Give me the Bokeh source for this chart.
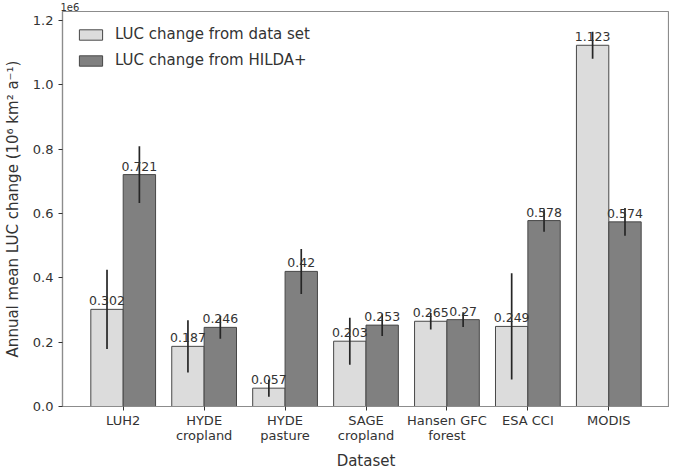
import numpy as np
from bokeh.plotting import figure
from bokeh.models import Range1d, FixedTicker, Legend, LegendItem
from bokeh.core.properties import value
from bokeh.embed import file_html
from bokeh.resources import INLINE

datasets = ["LUH2", "HYDE\ncropland", "HYDE\npasture", "SAGE\ncropland",
            "Hansen GFC\nforest", "ESA CCI", "MODIS"]
luc_dataset = [0.302, 0.187, 0.057, 0.203, 0.265, 0.249, 1.123]
err_dataset = [0.123, 0.081, 0.027, 0.073, 0.026, 0.165, 0.042]
luc_hilda = [0.721, 0.246, 0.42, 0.253, 0.27, 0.578, 0.574]
err_hilda = [0.088, 0.035, 0.070, 0.034, 0.023, 0.035, 0.043]
label_dataset = ["0.302", "0.187", "0.057", "0.203", "0.265", "0.249", "1.123"]
label_hilda = ["0.721", "0.246", "0.42", "0.253", "0.27", "0.578", "0.574"]
y_ticks = [0.0, 0.2, 0.4, 0.6, 0.8, 1.0, 1.2]

FONT = "DejaVu Sans"
TXT = "#333333"
EDGE = "#474747"

idx = np.arange(len(datasets))
xa = idx - 0.2
xb = idx + 0.2
va = np.array(luc_dataset)
vb = np.array(luc_hilda)
ea = np.array(err_dataset)
eb = np.array(err_hilda)

p = figure(width=669, height=472, output_backend="svg", toolbar_location=None,
           x_range=Range1d(-0.75, 6.75), y_range=Range1d(0, 1.228),
           title="1e6",
           min_border_left=55, min_border_right=0, min_border_top=0, min_border_bottom=40)
p.title.text_font = FONT
p.title.text_font_size = "10px"
p.title.text_font_style = "normal"
p.title.text_color = TXT
p.title.align = "left"
p.title.standoff = 1
p.title.offset = -2
p.grid.visible = False
p.outline_line_color = "#8c8c8c"
p.outline_line_width = 1.2
p.background_fill_color = "white"
p.border_fill_color = "white"

ra = p.vbar(x=xa, top=va, width=0.4, fill_color="#dcdcdc", line_color=EDGE, line_width=1)
rb = p.vbar(x=xb, top=vb, width=0.4, fill_color="#808080", line_color=EDGE, line_width=1)

p.segment(x0=xa, y0=va - ea, x1=xa, y1=va + ea, line_color="#262626", line_width=1.7)
p.segment(x0=xb, y0=vb - eb, x1=xb, y1=vb + eb, line_color="#262626", line_width=1.7)

p.text(x=xa, y=va, text=label_dataset, text_align="center", text_baseline="bottom",
       y_offset=-4, text_font_size="12.5px", text_color=TXT, text_font=value(FONT))
p.text(x=xb, y=vb, text=label_hilda, text_align="center", text_baseline="bottom",
       y_offset=-4, text_font_size="12.5px", text_color=TXT, text_font=value(FONT))

for ax in (p.xaxis[0], p.yaxis[0]):
    ax.axis_line_color = "#8c8c8c"
    ax.axis_line_width = 1.2
    ax.major_tick_line_color = "#333333"
    ax.major_tick_in = 0
    ax.major_tick_out = 4
    ax.minor_tick_line_color = None
    ax.major_label_text_font = FONT
    ax.major_label_text_font_size = "13px"
    ax.major_label_text_color = TXT
    ax.axis_label_text_font = FONT
    ax.axis_label_text_font_size = "15px"
    ax.axis_label_text_font_style = "normal"
    ax.axis_label_text_color = TXT

p.xaxis.ticker = FixedTicker(ticks=list(idx))
p.xaxis.major_label_overrides = {int(i): d for i, d in zip(idx, datasets)}
p.xaxis.major_label_standoff = 2
p.xaxis.major_label_text_line_height = 1.0
p.xaxis.axis_label = "Dataset"
p.xaxis.axis_label_standoff = 6

p.yaxis.ticker = FixedTicker(ticks=y_ticks)
p.yaxis.major_label_overrides = {t: f"{t:.1f}" for t in y_ticks}
p.yaxis.axis_label = "Annual mean LUC change (10\u2076 km\u00b2 a\u207b\u00b9)"
p.yaxis.axis_label_standoff = 8

legend = Legend(items=[LegendItem(label="LUC change from data set", renderers=[ra]),
                       LegendItem(label="LUC change from HILDA+", renderers=[rb])],
                location="top_left")
legend.label_text_font = FONT
legend.label_text_font_size = "15px"
legend.label_text_color = TXT
legend.glyph_width = 29
legend.glyph_height = 13
legend.label_height = 13
legend.label_standoff = 10
legend.spacing = 8
legend.margin = 5
legend.padding = 9
legend.border_line_alpha = 0
legend.background_fill_alpha = 0
p.add_layout(legend)

open("out.html", "w").write(file_html(p, INLINE))
